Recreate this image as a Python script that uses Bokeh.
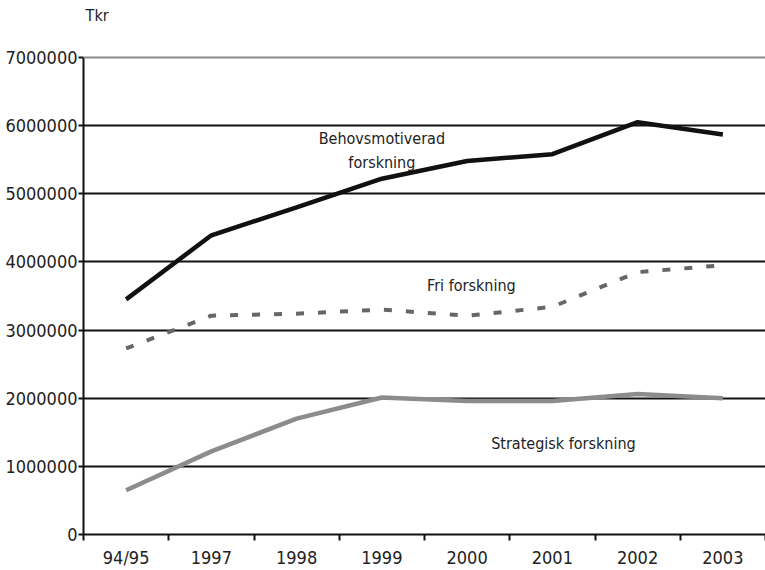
from bokeh.plotting import figure
from bokeh.models import Range1d, FixedTicker, Label, Span, ColumnDataSource
from bokeh.embed import file_html
from bokeh.resources import INLINE

years = ["94/95", "1997", "1998", "1999", "2000", "2001", "2002", "2003"]
behov = [3450000, 4390000, 4800000, 5220000, 5480000, 5580000, 6050000, 5870000]
fri = [2730000, 3210000, 3240000, 3300000, 3210000, 3340000, 3850000, 3950000]
strat = [650000, 1220000, 1700000, 2010000, 1960000, 1960000, 2060000, 2000000]
y_ticks = [0, 1000000, 2000000, 3000000, 4000000, 5000000, 6000000, 7000000]
unit_label = "Tkr"

xs = list(range(len(years)))
src = ColumnDataSource(dict(x=xs, behov=behov, fri=fri, strat=strat))

TICK_FONT = "'DejaVu Sans Condensed', 'DejaVu Sans', sans-serif"
LABEL_FONT = "'Liberation Sans Narrow', 'DejaVu Sans Condensed', sans-serif"

# frame reaches the top of the canvas; the axis itself is bounded to 0..7000000
p = figure(width=765, height=570, output_backend="svg", toolbar_location=None,
           x_range=Range1d(-0.5, len(years) - 0.5), y_range=Range1d(0, 7835000),
           min_border_left=83, min_border_right=0, min_border_top=0, min_border_bottom=35)
p.outline_line_color = None
p.background_fill_color = "white"
p.border_fill_color = "white"

# grid: black lines, top line lighter grey
p.xgrid.grid_line_color = None
p.ygrid.ticker = FixedTicker(ticks=y_ticks[:-1])
p.ygrid.grid_line_color = "#111111"
p.ygrid.grid_line_width = 2
p.add_layout(Span(location=y_ticks[-1], dimension="width", line_color="#8a8a8a", line_width=2))

# lines
p.line("x", "strat", source=src, line_color="#8c8c8c", line_width=4.5)
p.line("x", "fri", source=src, line_color="#666666", line_width=4, line_dash="8 14")
p.line("x", "behov", source=src, line_color="#111111", line_width=4.5)

# y axis
p.yaxis.bounds = (y_ticks[0], y_ticks[-1])
p.yaxis.ticker = FixedTicker(ticks=y_ticks)
p.yaxis.major_label_overrides = {t: str(t) for t in y_ticks}
p.yaxis.axis_line_color = "#111111"
p.yaxis.axis_line_width = 2
p.yaxis.major_tick_line_color = "#111111"
p.yaxis.major_tick_line_width = 2
p.yaxis.major_tick_out = 5
p.yaxis.major_tick_in = 0
p.yaxis.minor_tick_line_color = None
p.yaxis.major_label_text_font = TICK_FONT
p.yaxis.major_label_text_font_size = "18px"
p.yaxis.major_label_text_color = "#222222"
p.yaxis.major_label_standoff = 1

# x axis: labels at category centres, ticks at boundaries (minor ticks)
p.xaxis.ticker = FixedTicker(ticks=xs, minor_ticks=[i + 0.5 for i in range(-1, len(years))])
p.xaxis.major_label_overrides = {i: y for i, y in enumerate(years)}
p.xaxis.axis_line_color = "#111111"
p.xaxis.axis_line_width = 2
p.xaxis.major_tick_line_color = None
p.xaxis.major_tick_out = 0
p.xaxis.major_tick_in = 0
p.xaxis.minor_tick_line_color = "#111111"
p.xaxis.minor_tick_line_width = 2
p.xaxis.minor_tick_out = 6
p.xaxis.minor_tick_in = 0
p.xaxis.major_label_text_font = TICK_FONT
p.xaxis.major_label_text_font_size = "18px"
p.xaxis.major_label_text_color = "#222222"
p.xaxis.major_label_standoff = 6

# annotations
lab_style = dict(text_font=LABEL_FONT, text_font_size="16px", text_color="#222222",
                 text_align="center", text_baseline="middle")
p.add_layout(Label(x=3.0, y=5810000, text="Behovsmotiverad", **lab_style))
p.add_layout(Label(x=3.0, y=5460000, text="forskning", **lab_style))
p.add_layout(Label(x=4.05, y=3660000, text="Fri forskning", **lab_style))
p.add_layout(Label(x=5.13, y=1330000, text="Strategisk forskning", **lab_style))
p.add_layout(Label(x=-0.34, y=7615000, text=unit_label, **lab_style))

open("out.html", "w").write(file_html(p, INLINE))
